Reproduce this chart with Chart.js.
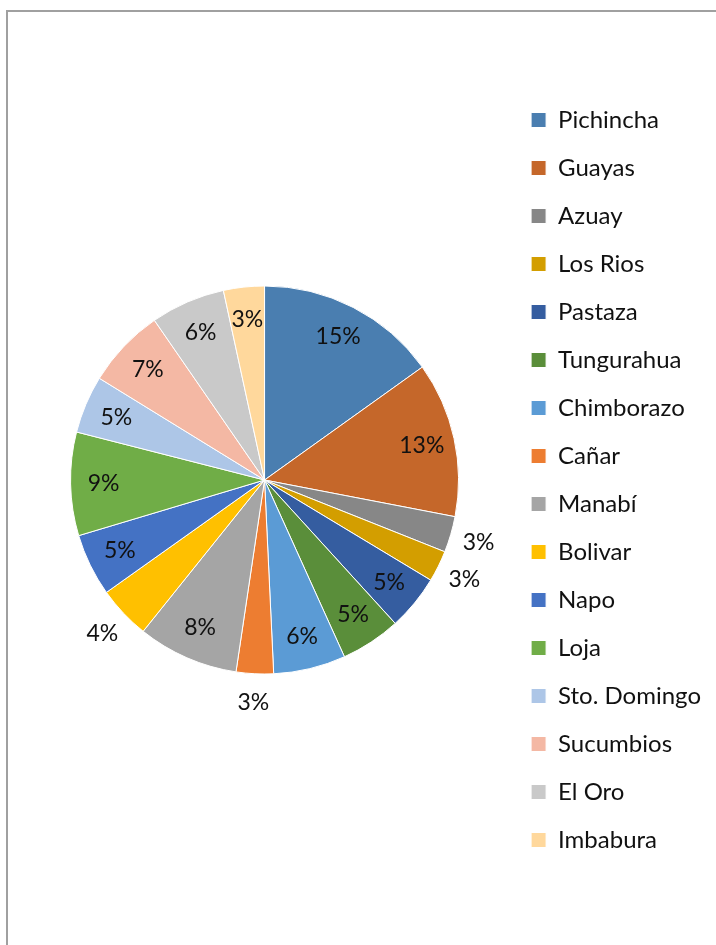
<!DOCTYPE html>
<html>
<head>
<meta charset="utf-8">
<script src="https://cdn.jsdelivr.net/npm/chart.js@4/dist/chart.umd.min.js"></script>
<style>
  html, body { margin: 0; padding: 0; background: #fff; }
  #frame {
    position: absolute; left: 6px; top: 10px; width: 720px; height: 950px;
    border-top: 2px solid #a0a0a0; border-left: 2px solid #a0a0a0;
  }
  #pie { position: absolute; left: 0; top: 0; }
</style>
</head>
<body>
<div id="frame"></div>
<canvas id="pie" width="716" height="945"></canvas>
<script>
var provinces = ['Pichincha', 'Guayas', 'Azuay', 'Los Rios', 'Pastaza', 'Tungurahua',
    'Chimborazo', 'Cañar', 'Manabí', 'Bolivar', 'Napo', 'Loja',
    'Sto. Domingo', 'Sucumbios', 'El Oro', 'Imbabura'];
var shares = [15.1, 12.9, 3.0, 2.6, 4.6, 5.0, 6.0, 3.1, 8.4, 4.4, 5.2, 8.6, 4.8, 6.6, 6.2, 3.4];
var colors = ['#4a7eb0', '#c5672a', '#878787', '#d39e00', '#355da0', '#5a8e3a',
    '#5b9bd5', '#ed7d31', '#a5a5a5', '#ffc000', '#4472c4', '#70ad47',
    '#adc6e7', '#f4b8a4', '#c9c9c9', '#ffd89c'];
// these slices are too thin, their label sits outside the pie
var outsideLabels = ['Azuay', 'Los Rios', 'Cañar', 'Bolivar'];

var FONT = 'Lato, "Open Sans", sans-serif';

var percentLabels = {
    id: 'percentLabels',
    afterDatasetsDraw: function (chart) {
        var ctx = chart.ctx;
        var data = chart.data.datasets[0].data;
        var total = data.reduce(function (a, b) { return a + b; }, 0);
        var arcs = chart.getDatasetMeta(0).data;
        ctx.save();
        ctx.font = '23px ' + FONT;
        ctx.fillStyle = '#111';
        ctx.textAlign = 'center';
        ctx.textBaseline = 'middle';
        arcs.forEach(function (arc, i) {
            var mid = (arc.startAngle + arc.endAngle) / 2;
            var out = outsideLabels.indexOf(chart.data.labels[i]) >= 0;
            var r = arc.outerRadius * (out ? 1.15 : 0.83);
            var txt = Math.round(data[i] / total * 100) + '%';
            ctx.fillText(txt, arc.x + Math.cos(mid) * r, arc.y + Math.sin(mid) * r);
        });
        ctx.restore();
    }
};

var chart = new Chart('pie', {
    type: 'pie',
    data: {
        labels: provinces,
        datasets: [{
            data: shares,
            backgroundColor: colors,
            borderColor: '#ffffff',
            borderWidth: 1
        }]
    },
    options: {
        responsive: false,
        animation: false,
        radius: 194,
        layout: { padding: { top: 15, bottom: 0, left: 22, right: 5 } },
        plugins: {
            legend: {
                position: 'right',
                labels: {
                    font: { family: FONT, size: 24 },
                    color: '#111',
                    boxWidth: 15,
                    boxHeight: 15,
                    padding: 24
                }
            },
            tooltip: { enabled: false }
        }
    },
    plugins: [percentLabels]
});
</script>
</body>
</html>
